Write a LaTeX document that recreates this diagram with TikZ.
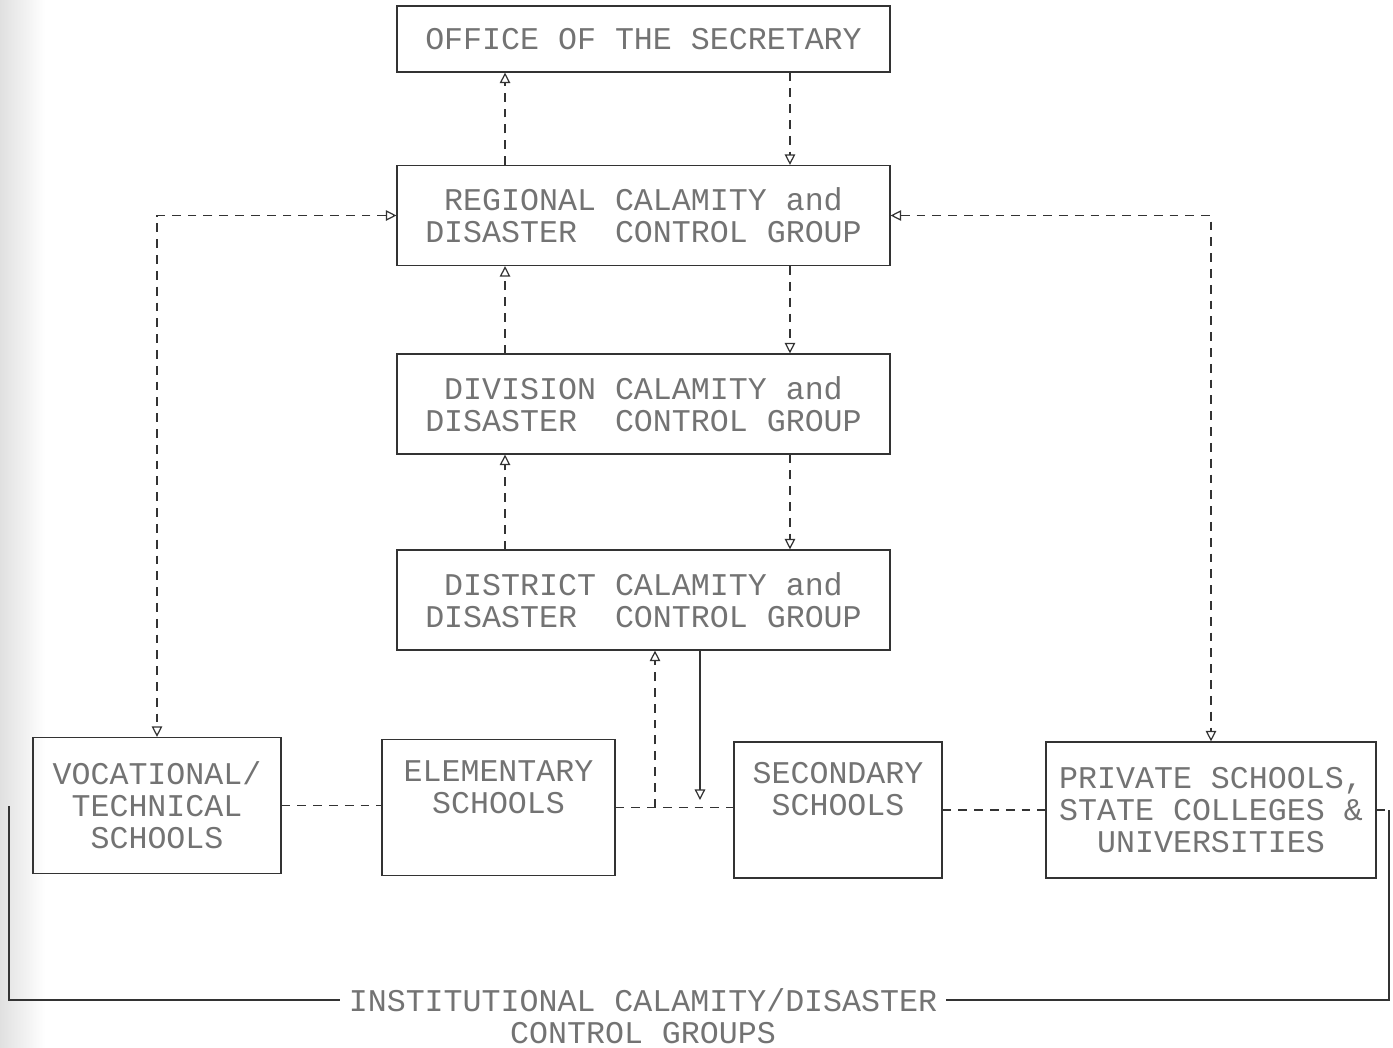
\documentclass[tikz,border=0pt]{standalone}
\usepackage{fontspec}
\setmonofont{Liberation Mono}
\usepackage{tikz}
\usetikzlibrary{arrows.meta,positioning}
\tikzset{
  box/.style={draw=black!80, line width=0.7pt, rectangle, align=center,
    text=black!55, font=\ttfamily\fontsize{18}{18.2}\selectfont},
  wide/.style={box, minimum width=9.86cm, minimum height=2cm},
  small/.style={box, minimum height=2.72cm},
  lbl/.style={anchor=north, yshift=-0.42cm, align=center, inner sep=0pt,
    text=black!55, font=\ttfamily\fontsize{18}{18.2}\selectfont},
  title/.style={inner xsep=5pt, inner ysep=0pt,
    text=black!55, font=\ttfamily\fontsize{18}{18.2}\selectfont},
  link/.style={draw=black!80, line width=0.7pt, dash pattern=on 5pt off 4pt},
  wire/.style={draw=black!80, line width=0.7pt},
  >={Triangle[open,length=6pt,width=6pt]}
}

\begin{document}
\begin{tikzpicture}[x=0.02cm, y=-0.02cm]
	\useasboundingbox (0,0) rectangle (1393,1048);
	\shade[left color=black!12, right color=white] (0,0) rectangle (45,1048);
	% main column
	\node[wide, minimum height=1.32cm] (off) at (643.5,39) {OFFICE OF THE SECRETARY};
	\node[wide] (reg) at (643.5,215.5) {REGIONAL CALAMITY and\\DISASTER\ \ CONTROL GROUP};
	\node[wide] (div) at (643.5,404) {DIVISION CALAMITY and\\DISASTER\ \ CONTROL GROUP};
	\node[wide] (dist) at (643.5,600) {DISTRICT CALAMITY and\\DISASTER\ \ CONTROL GROUP};
	% schools
	\node[small, minimum width=4.96cm] (voc) at (157,805.5) {VOCATIONAL/\\TECHNICAL\\SCHOOLS};
	\node[small, minimum width=4.66cm, label={[lbl]north:ELEMENTARY\\SCHOOLS}] (elem) at (498.5,807.5) {};
	\node[small, minimum width=4.16cm, label={[lbl]north:SECONDARY\\SCHOOLS}] (sec) at (838,810) {};
	\node[small, minimum width=6.6cm] (priv) at (1211,810) {PRIVATE SCHOOLS,\\STATE COLLEGES \&\\UNIVERSITIES};
	\node[title] (inst) at (643,1000) {INSTITUTIONAL CALAMITY/DISASTER};
	\node[title] (inst2) [below=0.2cm of inst] {CONTROL GROUPS};
	% up and down the line
	\draw[link,->] ([xshift=-2.77cm]reg.north) -- ([xshift=-2.77cm]off.south);
	\draw[link,->] ([xshift=2.93cm]off.south) -- ([xshift=2.93cm]reg.north);
	\draw[link,->] ([xshift=-2.77cm]div.north) -- ([xshift=-2.77cm]reg.south);
	\draw[link,->] ([xshift=2.93cm]reg.south) -- ([xshift=2.93cm]div.north);
	\draw[link,->] ([xshift=-2.77cm]dist.north) -- ([xshift=-2.77cm]div.south);
	\draw[link,->] ([xshift=2.93cm]div.south) -- ([xshift=2.93cm]dist.north);
	\draw[link,<->] (reg.west) -| (voc.north);
	\draw[link,<->] (reg.east) -| (priv.north);
	% bottom row
	\draw[link] (voc.east) -- (elem.west |- voc.east);
	\draw[link] (elem.east) -- (sec.west |- elem.east);
	\draw[link] (sec.east) -- (priv.west);
	\coordinate (dup) at ([xshift=0.23cm]dist.south);
	\coordinate (ddown) at ([xshift=1.13cm]dist.south);
	\draw[link,->] (dup |- elem.east) -- (dup);
	\draw[wire,->] (ddown) -- ([yshift=0.15cm]ddown |- elem.east);
	% bracket round the schools
	\coordinate (lb) at (9,806);
	\coordinate (rb) at (1389,810);
	\draw[wire] (lb) |- (inst.west);
	\draw[link] (priv.east) -- (rb);
	\draw[wire] (rb) |- (inst.east);
\end{tikzpicture}
\end{document}
